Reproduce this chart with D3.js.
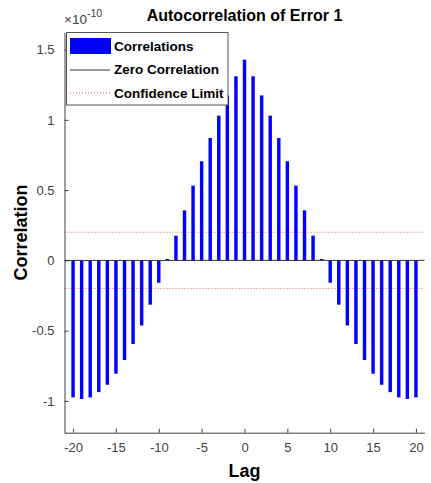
<!DOCTYPE html>
<html>
<head lang="en">
    <meta charset="UTF-8">
    <title>Autocorrelation of Error 1</title>
    <style>
        body { margin: 0; background: #fff; }
        text { font-family: "Liberation Sans", Arial, Helvetica, sans-serif; }
    </style>
</head>
<body>
<div id="chart"></div>
<script src="https://cdn.jsdelivr.net/npm/d3@7/dist/d3.min.js"></script>
<script>
// lags and autocorrelation values (in units of 1e-10)
var lags = [-20, -19, -18, -17, -16, -15, -14, -13, -12, -11, -10, -9, -8, -7, -6, -5, -4, -3, -2, -1,
            0, 1, 2, 3, 4, 5, 6, 7, 8, 9, 10, 11, 12, 13, 14, 15, 16, 17, 18, 19, 20];
var correlations = [-0.975, -0.986, -0.975, -0.937, -0.885, -0.806, -0.709, -0.595, -0.463, -0.315,
                    -0.159, 0.01, 0.176, 0.356, 0.532, 0.705, 0.871, 1.030, 1.174, 1.310,
                    1.428,
                    1.310, 1.174, 1.030, 0.871, 0.705, 0.532, 0.356, 0.176, 0.01, -0.159,
                    -0.315, -0.463, -0.595, -0.709, -0.806, -0.885, -0.937, -0.975, -0.986, -0.975];
var confidenceLimits = [0.2, -0.2];
var xTicks = [-20, -15, -10, -5, 0, 5, 10, 15, 20];
var yTicks = [-1, -0.5, 0, 0.5, 1, 1.5];
var legendItems = ["Correlations", "Zero Correlation", "Confidence Limit"];

var width = 431, height = 483;
var axisColor = "#404040";

var svg = d3.select("#chart").append("svg")
        .attr("width", width)
        .attr("height", height);

var x = d3.scaleLinear().domain([-21, 21]).range([64.5, 424.5]);
var y = d3.scaleLinear().domain([-1.226, 1.623]).range([432.7, 32.3]);

// confidence limits
svg.append("g")
        .selectAll("line")
        .data(confidenceLimits)
        .enter().append("line")
        .attr("x1", x(-21)).attr("x2", x(21))
        .attr("y1", function (d) { return y(d); })
        .attr("y2", function (d) { return y(d); })
        .attr("stroke", "#e0605a")
        .attr("stroke-width", 1)
        .attr("stroke-dasharray", "1,2");

// bars
var barWidth = x(0.4) - x(0);
svg.append("g")
        .selectAll("rect")
        .data(lags)
        .enter().append("rect")
        .attr("x", function (d) { return x(d) - barWidth / 2; })
        .attr("y", function (d, i) { return y(Math.max(0, correlations[i])); })
        .attr("width", barWidth)
        .attr("height", function (d, i) { return Math.abs(y(correlations[i]) - y(0)); })
        .style("fill", "#0000ff");

// zero line
svg.append("line")
        .attr("x1", x(-21)).attr("x2", x(21))
        .attr("y1", y(0)).attr("y2", y(0))
        .attr("stroke", "#333")
        .attr("stroke-width", 1);

// axes
var xAxis = svg.append("g")
        .attr("transform", "translate(0," + y(-1.226) + ")")
        .call(d3.axisBottom(x).tickValues(xTicks).tickSizeInner(-4).tickSizeOuter(0).tickPadding(10)
              .tickFormat(function (d) { return d; }));
var yAxis = svg.append("g")
        .attr("transform", "translate(" + x(-21) + ",0)")
        .call(d3.axisLeft(y).tickValues(yTicks).tickSizeInner(-4).tickSizeOuter(0).tickPadding(10)
              .tickFormat(function (d) { return d; }));
[xAxis, yAxis].forEach(function (a) {
    a.select(".domain").attr("stroke", axisColor);
    a.selectAll(".tick line").attr("stroke", axisColor);
    a.selectAll(".tick text").attr("fill", axisColor).style("font-size", "13px")
            .style("font-family", "'Liberation Sans', Arial, sans-serif");
});

// exponent label
var expo = svg.append("text")
        .attr("x", 64)
        .attr("y", 23.5)
        .attr("fill", axisColor)
        .style("font-size", "13.5px");
expo.append("tspan").text("\u00d710");
expo.append("tspan").attr("dy", -7).style("font-size", "10.5px").text("-10");

// title and labels
svg.append("text")
        .attr("x", (x(-21) + x(21)) / 2)
        .attr("y", 20.5)
        .attr("text-anchor", "middle")
        .style("font-size", "16px")
        .style("font-weight", "bold")
        .text("Autocorrelation of Error 1");
svg.append("text")
        .attr("x", (x(-21) + x(21)) / 2)
        .attr("y", 477)
        .attr("text-anchor", "middle")
        .style("font-size", "18px")
        .style("font-weight", "bold")
        .text("Lag");
svg.append("text")
        .attr("transform", "translate(27," + (y(-1.226) + y(1.623)) / 2 + ") rotate(-90)")
        .attr("text-anchor", "middle")
        .style("font-size", "18px")
        .style("font-weight", "bold")
        .text("Correlation");

// legend
var legend = svg.append("g");
legend.append("rect")
        .attr("x", 66.5).attr("y", 32.5)
        .attr("width", 161.5).attr("height", 72.5)
        .attr("fill", "#fff")
        .attr("stroke", "#555")
        .attr("stroke-width", 1);
legend.append("rect")
        .attr("x", 70).attr("y", 38)
        .attr("width", 41).attr("height", 16)
        .style("fill", "#0000ff");
legend.append("line")
        .attr("x1", 70).attr("x2", 110).attr("y1", 70).attr("y2", 70)
        .attr("stroke", "#333");
legend.append("line")
        .attr("x1", 70).attr("x2", 110).attr("y1", 93).attr("y2", 93)
        .attr("stroke", "#e0605a")
        .attr("stroke-dasharray", "1,2");
legend.selectAll(".legend-text")
        .data(legendItems)
        .enter().append("text")
        .attr("class", "legend-text")
        .attr("x", 114)
        .attr("y", function (d, i) { return 51 + i * 23.3; })
        .style("font-size", "13.5px")
        .style("font-weight", "bold")
        .text(function (d) { return d; });
</script>
</body>
</html>
